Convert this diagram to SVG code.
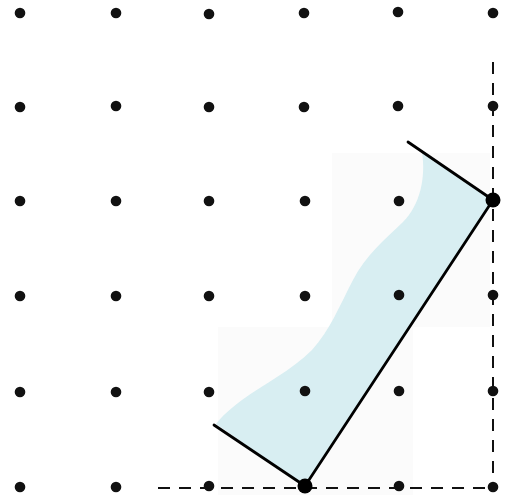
<svg xmlns="http://www.w3.org/2000/svg" width="507" height="497" viewBox="0 0 507 497">
<style>
.dot{fill:#111}
.big{fill:#000}
.ln{stroke:#000;stroke-width:2.8;fill:none;stroke-linecap:round}
.dash{stroke:#111;stroke-width:2;fill:none;stroke-dasharray:12 9}
</style>
<rect width="507" height="497" fill="#fff"/>
<g id="background">
<rect x="332" y="153" width="158" height="174" fill="#fbfbfb"/>
<rect x="218" y="327" width="195" height="168" fill="#fbfbfb"/>
</g>
<g id="region">
<path d="M216,424 L305,486 L493,200 L422,152 C426,178 420,205 403,222 C384,240 366,255 353,280 C340,305 330,330 312,350 C292,370 264,384 242,400 C230,409 222,416 216,424 Z" fill="#d8eef2"/>
</g>
<g id="grid">
<circle class="dot" cx="20" cy="13" r="5.3"/><circle class="dot" cx="116" cy="13" r="5.3"/><circle class="dot" cx="209" cy="14" r="5.3"/><circle class="dot" cx="304" cy="13" r="5.3"/><circle class="dot" cx="398" cy="12" r="5.3"/><circle class="dot" cx="493" cy="13" r="5.3"/>
<circle class="dot" cx="20" cy="107" r="5.3"/><circle class="dot" cx="116" cy="106" r="5.3"/><circle class="dot" cx="209" cy="107" r="5.3"/><circle class="dot" cx="304" cy="107" r="5.3"/><circle class="dot" cx="398" cy="106" r="5.3"/><circle class="dot" cx="493" cy="106" r="5.3"/>
<circle class="dot" cx="20" cy="201" r="5.3"/><circle class="dot" cx="116" cy="201" r="5.3"/><circle class="dot" cx="209" cy="201" r="5.3"/><circle class="dot" cx="305" cy="201" r="5.3"/><circle class="dot" cx="399" cy="201" r="5.3"/>
<circle class="dot" cx="20" cy="296" r="5.3"/><circle class="dot" cx="116" cy="296" r="5.3"/><circle class="dot" cx="209" cy="296" r="5.3"/><circle class="dot" cx="305" cy="296" r="5.3"/><circle class="dot" cx="399" cy="295" r="5.3"/><circle class="dot" cx="493" cy="295" r="5.3"/>
<circle class="dot" cx="20" cy="392" r="5.3"/><circle class="dot" cx="116" cy="392" r="5.3"/><circle class="dot" cx="209" cy="392" r="5.3"/><circle class="dot" cx="305" cy="391" r="5.3"/><circle class="dot" cx="399" cy="391" r="5.3"/><circle class="dot" cx="493" cy="391" r="5.3"/>
<circle class="dot" cx="20" cy="487" r="5.3"/><circle class="dot" cx="116" cy="487" r="5.3"/><circle class="dot" cx="209" cy="486" r="5.3"/><circle class="dot" cx="399" cy="486" r="5.3"/><circle class="dot" cx="493" cy="487" r="5.3"/>
</g>
<g id="connectors">
<line class="dash" x1="493" y1="62" x2="493" y2="487"/>
<line class="dash" x1="158" y1="488" x2="493" y2="488"/>
<line class="ln" x1="305" y1="486" x2="493" y2="200"/>
<line class="ln" x1="214" y1="425" x2="305" y2="486"/>
<line class="ln" x1="408" y1="142" x2="493" y2="200"/>
</g>
<g id="points">
<circle class="big" cx="305" cy="486" r="7.5"/>
<circle class="big" cx="493" cy="200" r="7.5"/>
</g>
</svg>
